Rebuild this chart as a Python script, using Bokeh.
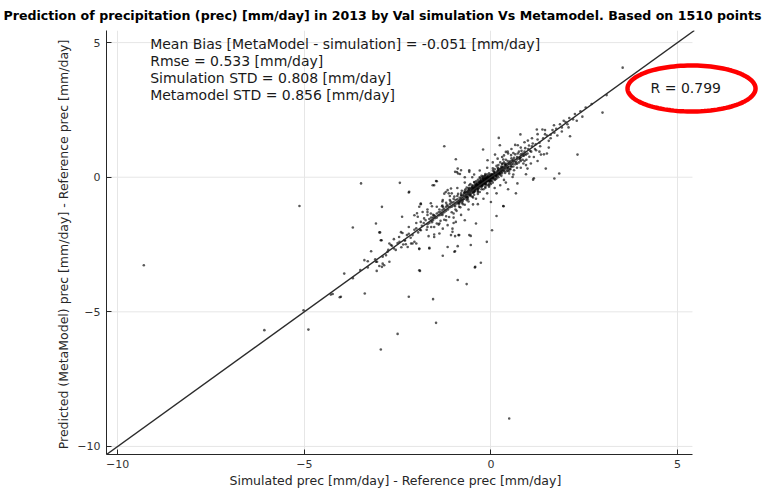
import numpy as np
from bokeh.plotting import figure
from bokeh.models import Label, Slope, PolyAnnotation, ColumnDataSource, Title
from bokeh.embed import file_html
from bokeh.resources import INLINE

# ---------------- data ----------------
title_text = "Prediction of precipitation (prec) [mm/day] in 2013 by Val simulation Vs Metamodel. Based on 1510 points"
x_label = "Simulated prec [mm/day] - Reference prec [mm/day]"
y_label = "Predicted (MetaModel) prec [mm/day] - Reference prec  [mm/day]"
stats_lines = [
    "Mean Bias [MetaModel - simulation] = -0.051 [mm/day]",
    "Rmse = 0.533 [mm/day]",
    "Simulation STD = 0.808 [mm/day]",
    "Metamodel STD = 0.856 [mm/day]",
]
r_text = "R = 0.799"
tick_values = [-10, -5, 0, 5]

# (simulated, metamodel) pairs - dense core near the 1:1 line
core_pairs = [
    (-0.05,-0.02),(0.02,0.05),(-0.1,-0.08),(-0.15,-0.05),(0.05,-0.03),(-0.2,-0.15),(-0.25,-0.2),(-0.3,-0.22),
    (0.1,0.08),(0.12,0.15),(-0.08,0.04),(-0.18,-0.25),(-0.35,-0.3),(-0.4,-0.35),(-0.28,-0.12),(0.0,-0.1),
    (0.08,0.2),(0.15,0.1),(0.2,0.18),(0.25,0.3),(-0.12,-0.18),(-0.22,-0.3),(-0.32,-0.4),(-0.45,-0.42),
    (-0.5,-0.48),(-0.38,-0.25),(0.03,0.12),(-0.02,-0.2),(0.18,0.25),(0.3,0.28),(0.28,0.4),(0.35,0.35),
    (-0.55,-0.5),(-0.6,-0.62),(-0.48,-0.58),(-0.42,-0.5),(-0.65,-0.55),(-0.7,-0.72),(-0.75,-0.68),(-0.62,-0.75),
    (0.4,0.45),(0.45,0.38),(0.38,0.5),(0.5,0.55),(0.55,0.48),(-0.8,-0.78),(-0.85,-0.9),(-0.9,-0.82),
    (-0.78,-0.95),(0.6,0.65),(0.65,0.58),(0.7,0.75),(-0.95,-1.0),(-1.0,-0.92),(-1.05,-1.1),(-1.1,-1.0),
    (0.75,0.7),(0.8,0.85),(0.85,0.8),(0.9,0.95),(-1.15,-1.2),(-1.2,-1.1),(-1.25,-1.3),(-1.3,-1.22),
    (1.0,1.05),(1.05,0.98),(1.1,1.15),(-1.35,-1.4),(-1.4,-1.3),(-1.5,-1.45),(-1.55,-1.6),(1.2,1.22),
    (1.3,1.28),(1.4,1.45),(-1.6,-1.5),(-1.7,-1.75),(-1.8,-1.7),(1.5,1.55),(1.6,1.58),(-1.9,-1.95),
    (-2.0,-1.9),(1.75,1.8),(1.9,1.85),(-2.1,-2.15),(-2.2,-2.1),(2.0,2.05),(-2.3,-2.35),(-2.45,-2.4),
    (2.2,2.15),(-2.6,-2.65),(-2.75,-2.7),(2.4,2.45),(-2.9,-2.95),(-3.1,-3.05),(-3.3,-3.35),(-3.5,-3.45),
    (2.7,2.72),(-3.7,-3.75),(3.1,3.05),
    (-0.1,0.1),(0.1,-0.1),(-0.2,0.0),(0.0,-0.25),(-0.3,-0.05),(-0.05,-0.35),(0.15,-0.05),(-0.15,0.12),
    (0.2,0.0),(0.05,0.25),(-0.25,0.05),(-0.4,-0.15),(-0.15,-0.4),(0.25,0.1),(0.1,0.3),(-0.35,-0.5),
    (-0.5,-0.3),(-0.55,-0.7),(-0.7,-0.5),(-0.3,-0.55),(0.3,0.15),(0.35,0.55),(0.45,0.25),(0.2,0.45),
    (-0.6,-0.4),(-0.45,-0.65),(-0.8,-0.6),(-0.65,-0.85),(-0.9,-0.7),(-0.75,-1.0),(0.5,0.3),(0.55,0.7),
    (0.6,0.4),(0.4,0.65),(-1.0,-0.8),(-0.85,-1.1),(-1.1,-0.85),(-0.95,-1.2),(0.7,0.5),(0.65,0.85),
    (0.8,0.6),(0.75,0.95),(-1.2,-0.95),(-1.05,-1.3),(-1.3,-1.05),(-1.2,-1.45),(-0.02,0.02),(-0.07,-0.06),
    (-0.12,-0.02),(-0.17,-0.12),(-0.22,-0.08),(-0.27,-0.28),(0.07,0.02),(0.04,0.09),(-0.09,-0.13),(-0.14,-0.22),
    (-0.19,-0.19),(-0.24,-0.25),(-0.33,-0.18),(-0.37,-0.42),(0.13,0.05),(0.09,0.14),(0.17,0.2),(0.22,0.12),
    (0.26,0.22),(-0.43,-0.28),(-0.47,-0.45),(-0.52,-0.38),(-0.58,-0.55),(-0.01,-0.15),(-0.04,0.08),(0.01,-0.05),
    (-0.11,-0.3),(-0.21,0.03),
    (-0.03,-0.08),(-0.06,0.01),(-0.13,-0.1),(-0.16,-0.03),(-0.23,-0.17),(-0.26,-0.1),(-0.29,-0.33),(-0.31,-0.2),
    (-0.34,-0.27),(-0.36,-0.36),(-0.39,-0.3),(-0.41,-0.44),(-0.44,-0.37),(-0.46,-0.52),(-0.49,-0.4),(-0.51,-0.57),
    (-0.53,-0.44),(-0.56,-0.6),(-0.59,-0.48),(-0.61,-0.67),(-0.63,-0.52),(-0.66,-0.72),(-0.68,-0.6),(-0.71,-0.8),
    (-0.73,-0.64),(-0.76,-0.85),(-0.79,-0.7),(-0.82,-0.88),(-0.84,-0.76),(-0.87,-0.95),(0.02,-0.02),(0.04,0.03),
    (0.06,0.1),(0.08,-0.02),(0.11,0.12),(0.14,0.02),(0.16,0.16),(0.19,0.07),(0.21,0.24),(0.23,0.15),
    (0.27,0.33),(0.29,0.2),(0.32,0.38),(0.34,0.25),(0.37,0.44),(0.39,0.3),(0.42,0.5),(0.44,0.35),
    (0.47,0.52),(0.49,0.4),(0.52,0.6),(0.54,0.42),(0.57,0.62),(0.59,0.5),(-0.01,0.05),(-0.04,-0.12),
    (-0.09,0.0),(-0.11,-0.15),(-0.14,-0.07),(-0.18,-0.21),(-0.2,-0.05),(-0.24,-0.31),(-0.27,-0.16),(-0.32,-0.34),
    (-0.37,-0.21),(-0.42,-0.41),(-0.47,-0.33),(-0.52,-0.5),(-0.57,-0.41),(-0.62,-0.58),(-0.67,-0.65),(-0.72,-0.58),
    (0.0,0.0),(0.03,-0.13),(-0.06,-0.25),(0.12,-0.08),(-0.16,0.06),(0.18,0.35),(-0.3,0.0),(0.05,0.33),
    (-0.44,-0.2),(-0.2,-0.45),(0.28,0.05),(0.15,0.42),(-0.55,-0.25),(-0.35,-0.62),(0.38,0.16),(0.25,0.55),
    (-0.65,-0.38),(-0.48,-0.75),(0.48,0.22),(0.33,0.66),(-0.78,-0.5),(-0.6,-0.9),(-0.88,-0.62),(-0.7,-1.02),
    (-0.98,-0.72),(-0.82,-1.12),(-1.08,-0.9),(-0.92,-1.25),(-1.18,-1.02),(-1.0,-1.35),(-1.28,-1.12),(-1.12,-1.48),
    (-1.38,-1.2),(-1.25,-1.58),(-1.45,-1.35),(-1.35,-1.62),(-1.55,-1.4),(-1.45,-1.72),(-1.65,-1.55),(-1.6,-1.85),
    (-1.75,-1.6),(-1.72,-1.95),(-1.85,-1.8),(-1.95,-2.05),(-2.05,-1.95),(-2.15,-2.25),(-2.25,-2.15),(-2.35,-2.5),
    (-2.5,-2.45),(-2.55,-2.7),(-2.65,-2.55),(0.62,0.72),(0.68,0.55),(0.72,0.88),(0.78,0.72),(0.82,0.98),
    (0.88,0.8),(0.92,1.08),(0.98,0.88),(1.02,1.18),(1.08,0.95),(1.12,1.25),(1.18,1.05),(1.25,1.4),
    (1.32,1.15),(1.45,1.6),(1.55,1.35),(1.65,1.75),(1.78,1.55),(1.95,2.1),(2.08,1.85),(2.25,2.35),
    (2.45,2.25),(-0.08,-0.04),(-0.12,-0.12),(-0.17,-0.16),(-0.21,-0.22),(-0.25,-0.24),(-0.02,0.0),(0.0,0.03),
    (-0.1,-0.03),(-0.14,-0.14),(-0.19,-0.1),(-0.23,-0.27),(-0.28,-0.23),(-0.33,-0.31),(-0.38,-0.38),(-0.43,-0.47),
]

# more points in the dark band around the origin
band_pairs = [
    (-0.06,-0.16),(-0.16,-0.26),(-0.26,-0.36),(-0.36,-0.46),(-0.46,-0.56),(-0.56,-0.66),(-0.66,-0.76),(-0.76,-0.9),
    (-0.86,-1.0),(-0.96,-1.08),(0.06,-0.06),(-0.04,-0.14),(-0.14,-0.24),(-0.24,-0.34),(-0.34,-0.44),(-0.44,-0.54),
    (-0.54,-0.64),(-0.64,-0.74),(-0.74,-0.82),(-0.84,-0.94),(0.1,0.2),(0.0,0.1),(-0.1,0.02),(-0.2,-0.08),
    (-0.3,-0.16),(-0.4,-0.26),(-0.5,-0.36),(-0.6,-0.46),(-0.7,-0.56),(-0.8,-0.66),(0.15,0.05),(0.25,0.15),
    (0.35,0.22),(0.45,0.32),(0.55,0.38),(0.65,0.48),(0.75,0.55),(0.85,0.65),(0.2,0.28),(0.3,0.36),
    (0.4,0.42),(0.5,0.5),(0.6,0.58),(0.7,0.66),(0.8,0.74),(0.9,0.85),(-0.9,-0.96),(-1.0,-1.05),
    (-1.1,-1.12),(-1.2,-1.25),(-1.3,-1.35),(-1.4,-1.42),(-1.5,-1.52),(-1.6,-1.62),(-0.95,-0.85),(-1.05,-0.95),
    (-1.15,-1.08),(-1.25,-1.18),(-1.35,-1.28),(-1.45,-1.5),(-1.55,-1.5),(-1.65,-1.7),(-0.02,-0.04),(-0.07,-0.1),
    (-0.12,-0.06),(-0.17,-0.2),(-0.22,-0.14),(-0.27,-0.2),(-0.32,-0.26),(-0.37,-0.3),(-0.42,-0.35),(-0.47,-0.42),
    (0.03,0.0),(0.08,0.06),(0.13,0.1),(0.18,0.14),(0.23,0.2),(0.28,0.25),(0.33,0.3),(0.38,0.36),
    (-0.05,0.15),(-0.15,0.05),(-0.25,-0.02),(-0.35,-0.1),(-0.45,-0.18),(0.05,-0.2),(-0.05,-0.3),(-0.15,-0.35),
    (-0.25,-0.45),(-0.35,-0.55),(-0.58,-0.3),(-0.68,-0.45),(-0.5,-0.72),(-0.62,-0.82),(0.42,0.22),(0.52,0.3),
    (0.3,0.48),(0.45,0.6),(-1.1,-0.7),(-1.3,-0.9),(-1.0,-1.5),(-1.2,-1.6),(0.7,0.35),(0.9,0.6),
    (0.6,0.9),(0.8,1.1),(-0.3,0.25),(-0.5,0.0),(-0.1,-0.6),(0.1,-0.4),(0.35,-0.1),(-0.7,-0.2),
    (-0.4,-0.8),(0.3,0.75),
    (0.55,1.05),(0.65,1.2),(0.9,1.3),(1.1,1.45),(1.25,1.6),(1.45,1.75),(1.6,1.45),(1.7,1.65),
    (1.9,1.7),(2.1,2.2),(2.3,2.1),(0.95,0.65),(1.15,0.75),(1.3,0.95),(1.55,1.1),(1.25,0.6),
    (0.8,0.35),(0.6,0.1),(0.4,-0.2),(0.25,-0.3),(0.15,-0.6),(-0.2,-0.8),(-0.35,-1.0),(-0.6,-1.2),
    (-0.8,-1.4),(-1.0,-1.7),(-1.3,-1.4),(-1.45,-1.1),(-1.7,-1.2),(-2.0,-1.7),(-2.2,-1.85),(-2.4,-2.6),
    (-2.6,-2.3),(-0.9,-0.4),(-1.05,-0.6),(-0.7,0.0),(-0.45,0.1),(0.05,0.55),(-0.1,0.35),(0.45,0.95),
]

# (simulated, metamodel) pairs - scattered points away from the line
spread_pairs = [
    (-9.30,-3.27),(-5.13,-1.07),(-6.07,-5.68),(-5.02,-4.94),(-4.89,-5.66),(-4.29,-4.36),(-4.05,-4.46),
    (-3.93,-3.58),(-3.06,-3.48),(-1.90,-3.48),(-0.89,-3.82),(-0.65,-3.97),(-3.38,-4.32),(-2.20,-4.44),
    (-1.55,-4.53),(-1.47,-5.41),(-2.50,-5.82),(-2.95,-6.40),(0.49,-8.96),(-3.48,-0.23),(-2.44,-0.21),
    (-2.20,-0.57),(-2.92,-1.10),(-3.70,-1.87),(-3.08,-1.72),(-2.97,-2.05),(-2.93,-2.34),(-3.21,-2.75),
    (-3.39,-3.08),(-3.30,-3.12),(-3.05,-3.14),(-2.92,-3.33),(-2.86,-3.27),(-2.72,-3.14),(-2.38,-1.47),
    (-2.41,-2.04),(-2.68,-2.52),(-1.92,-2.67),(-1.65,-2.62),(-1.29,-2.92),(-0.96,-2.75),(-0.89,-2.56),
    (-0.54,-2.52),(-0.54,-2.18),(-0.87,-2.15),(-0.11,-2.40),(-0.27,-3.18),(-0.42,-3.33),(0.03,-1.97),
    (0.15,-1.44),(0.33,-1.07),(-0.40,-1.72),(-0.70,-1.60),(-0.94,-1.66),(-1.03,-2.03),(-1.40,-1.76),
    (-1.52,-2.13),(-1.67,-2.19),(-1.88,-1.97),(-1.58,-1.67),(-1.98,-1.34),(-1.88,-1.0),(-1.58,-1.08),
    (-1.70,-1.40),(-1.31,-1.08),(-1.13,-0.60),(-1.45,-0.15),(-1.52,-0.30),(-0.91,0.19),(-0.58,0.20),
    (-1.25,1.15),(-0.21,1.03),(-0.94,0.67),(0.21,1.46),(0.79,1.59),(1.23,1.77),(1.38,1.77),(1.69,1.93),
    (1.85,1.97),(2.05,1.97),(2.54,2.59),(2.99,2.40),(2.12,1.52),(2.32,0.84),(1.83,0.14),(1.70,-0.05),
    (1.47,0.32),(1.50,0.88),(1.42,0.85),(1.34,0.84),(1.21,1.0),(0.99,1.36),(0.72,1.19),(1.15,-0.04),
    (1.13,-0.09),(0.94,0.11),(0.71,-0.23),(0.67,-0.60),(0.46,-0.45),(0.34,-1.08),(0.0,-0.92),(-0.48,-1.01),
    (-0.80,-0.85),(-1.29,-0.85),(-1.21,-0.55),(-1.61,-0.97),(-0.96,0.2),(-0.88,0.14),(-0.83,0.12),(-0.58,0.26),
    (0.11,0.84),(0.40,0.94),(0.46,0.88),(0.54,0.82),(0.85,0.88),(0.94,0.84),(1.03,0.76),(0.78,0.66),
    (0.87,0.51),(0.94,0.45),(1.07,0.51),(0.98,0.32),(0.62,0.26),(0.49,0.14),(0.58,0.01),(0.31,0.51),
    (0.2,0.32),(0.24,1.19),(0.35,0.81),(0.18,0.69),(-0.09,0.63),(-2.19,-0.54),(-1.47,-0.14),(-1.56,-0.30),
    (-0.89,0.32),(-0.80,0.26),(-1.16,-0.48),(-1.07,-0.42),(-1.25,-0.61),(-1.88,-0.98),(-1.92,-1.10),(-1.83,-1.29),
    (-1.70,-1.29),(-1.61,-1.35),(-1.52,-1.41),(-2.05,-1.41),(-1.96,-1.47),(-1.88,-1.66),(-1.79,-1.53),(-2.37,-2.07),
    (-2.46,-2.22),(-2.32,-2.34),(-2.28,-2.49),(-2.23,-2.59),(-2.10,-2.46),(-2.05,-2.40),(-1.52,-1.85),(-1.38,-1.72),
    (-1.29,-1.91),(-1.16,-1.78),(-1.03,-1.91),(-1.38,-2.09),(-1.07,-2.15),(-0.85,-2.15),(-0.58,-2.15),(-1.16,-2.59),
    (-1.52,-2.22),(-1.70,-1.85),(-2.99,-2.05),(-2.95,-2.34),(-3.08,-3.14),(-2.99,-3.30),(-2.90,-3.21),(-4.02,-4.44),
    (-4.24,-4.34),(-1.92,-3.46),(-2.81,-2.90),(-2.77,-2.77),(-2.72,-2.46),(-2.14,-2.46),(-2.0,-2.46),(-1.92,-2.65),
    (-1.65,-2.65),(-0.98,-2.77),(-0.96,-2.19),(-0.43,-3.35),(3.53,4.07),
]

all_pairs = core_pairs + band_pairs + spread_pairs
sim = [p[0] for p in all_pairs]
meta = [p[1] for p in all_pairs]

# ---------------- figure ----------------
TXT = "#262626"
FONT = "DejaVu Sans"
X0, X1 = -10.3, 5.4          # visible axis extent
Y0, Y1 = -10.3, 5.45
X_FRAME_END = 7.357          # frame continues to the right edge so the R badge is not clipped

p = figure(width=765, height=489, x_range=(X0, X_FRAME_END), y_range=(Y0, Y1),
           output_backend="svg", toolbar_location=None,
           min_border_left=106, min_border_right=0, min_border_top=30, min_border_bottom=35)
p.background_fill_color = "white"
p.border_fill_color = "white"
p.outline_line_color = None

p.title.text = title_text
p.title.text_font = FONT
p.title.text_font_size = "12.6px"
p.title.text_font_style = "bold"
p.title.text_color = "#000000"
p.title.align = "left"
p.title.offset = -103
p.title.vertical_align = "top"
p.title.standoff = 12

# grid: vertical lines from the grid, horizontal lines stop at the axis end
p.xgrid.ticker = tick_values
p.xgrid.grid_line_color = "#e6e6e6"
p.ygrid.visible = False
p.segment(x0=[X0] * len(tick_values), x1=[X1] * len(tick_values), y0=tick_values, y1=tick_values,
          line_color="#e6e6e6", line_width=1)

src = ColumnDataSource(dict(sim=sim, meta=meta))
p.scatter("sim", "meta", source=src, marker="circle", size=2.6, line_color=None,
          fill_color="#000000", fill_alpha=0.65)

p.add_layout(Slope(gradient=1, y_intercept=0, line_color="#2b2b2b", line_width=1.4))

for ax in (p.xaxis[0], p.yaxis[0]):
    ax.ticker = tick_values
    ax.axis_line_color = TXT
    ax.axis_line_width = 1
    ax.major_tick_in = 5
    ax.major_tick_out = 0
    ax.major_tick_line_color = TXT
    ax.minor_tick_line_color = None
    ax.major_label_text_font = FONT
    ax.major_label_text_font_size = "11px"
    ax.major_label_text_color = "#333333"
    ax.axis_label_text_font = FONT
    ax.axis_label_text_font_size = "12.5px"
    ax.axis_label_text_font_style = "normal"
    ax.axis_label_text_color = TXT

p.xaxis.bounds = (X0, X1)
p.xaxis.major_label_standoff = 5
p.yaxis.axis_label = y_label
p.yaxis.major_label_standoff = 6
p.yaxis.axis_label_standoff = 3

# x axis label as a below-title so that it is centred on the visible axis, not the wider frame
p.add_layout(Title(text=x_label, align="left", offset=123, standoff=0, vertical_align="bottom",
                   text_font=FONT, text_font_size="12.5px", text_font_style="normal",
                   text_color=TXT), "below")

# stats block
for i, line in enumerate(stats_lines):
    p.add_layout(Label(x=-9.13, y=4.94 - i * 0.632, text=line, text_font=FONT,
                       text_font_size="14px", text_color="#1a1a1a",
                       text_baseline="middle", text_align="left"))

# R value with red ellipse
cx, cy, a, b = 5.375, 3.295, 1.715, 0.854
t = np.linspace(0, 2 * np.pi, 120)
p.add_layout(PolyAnnotation(xs=list(cx + a * np.cos(t)), ys=list(cy + b * np.sin(t)),
                            fill_color=None, fill_alpha=0, line_color="#ff0000",
                            line_alpha=1.0, line_width=4.5))
p.add_layout(Label(x=5.22, y=3.33, text=r_text, text_font=FONT, text_font_size="14px",
                   text_color="#1a1a1a", text_baseline="middle", text_align="center"))

open("out.html", "w").write(file_html(p, INLINE))
